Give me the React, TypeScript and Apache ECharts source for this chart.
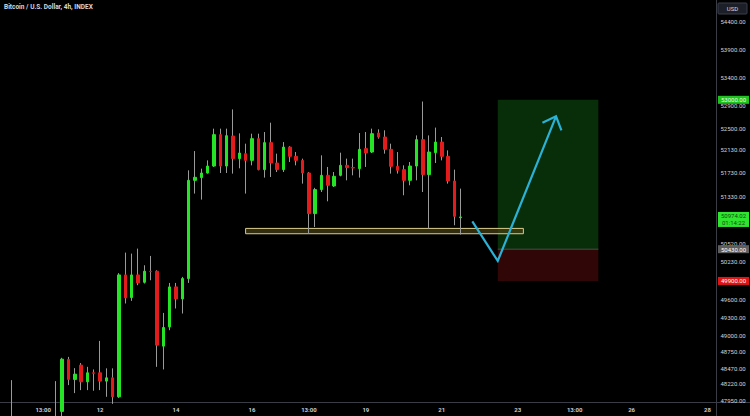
import { useEffect, useRef } from 'react';
import * as echarts from 'echarts';

const chartTitle = 'Bitcoin / U.S. Dollar, 4h, INDEX';
const quoteCurrency = 'USD';

// 4h bar slots, starting 2024-02-09 12:00 UTC
const firstSlotTime = Date.UTC(2024, 1, 9, 12);
const slotCount = 113;

// [open, close, low, high]
const candles: number[][] = [
  [47700, 47620, 47500, 47800],
  [47750, 47680, 47550, 48280],
  [47680, 47600, 47450, 47850],
  [47600, 47520, 47400, 47800],
  [47520, 47650, 47380, 47820],
  [47650, 47580, 47450, 47880],
  [47580, 47700, 47500, 47900],
  [47700, 47640, 47520, 47900],
  [47640, 47780, 47560, 48264],
  [47780, 48618, 47700, 48640],
  [48613, 48291, 48200, 48655],
  [48291, 48376, 48072, 48473],
  [48522, 48253, 48120, 48555],
  [48253, 48398, 48120, 48494],
  [48398, 48390, 48110, 48452],
  [48398, 48264, 48120, 48914],
  [48264, 48317, 48013, 48470],
  [48317, 48013, 47900, 48470],
  [48013, 50000, 47995, 50030],
  [50000, 49619, 49527, 50373],
  [49625, 50000, 49570, 50356],
  [50000, 49867, 49829, 50440],
  [49878, 50062, 49857, 50161],
  [50060, 50055, 49912, 50317],
  [50062, 48845, 48494, 50078],
  [48829, 49133, 48452, 49372],
  [49143, 49801, 49089, 49867],
  [49801, 49602, 49445, 49867],
  [49602, 49940, 49362, 49967],
  [49940, 51599, 49867, 51771],
  [51599, 51651, 51372, 52104],
  [51646, 51725, 51269, 51800],
  [51725, 51845, 51714, 51943],
  [51845, 52389, 51829, 52494],
  [52389, 51845, 51725, 52494],
  [51845, 52371, 51725, 52494],
  [52365, 51973, 51714, 52831],
  [51973, 52070, 51806, 52412],
  [52059, 51943, 51372, 52232],
  [51943, 52319, 51857, 52406],
  [52319, 51783, 51771, 52406],
  [51783, 52250, 51646, 52435],
  [52250, 51897, 51656, 52598],
  [51897, 51783, 51742, 52059],
  [51783, 52173, 51742, 52260],
  [52173, 52013, 51914, 52190],
  [52013, 51943, 51857, 52087],
  [51943, 51725, 51542, 51973],
  [51725, 51031, 50693, 51742],
  [51031, 51440, 50804, 51470],
  [51440, 51685, 51399, 52030],
  [51685, 51514, 51240, 51829],
  [51502, 51668, 51485, 51742],
  [51685, 51857, 51668, 52076],
  [51857, 51818, 51599, 51973],
  [51818, 51811, 51685, 51973],
  [51800, 52134, 51646, 52418],
  [52146, 52070, 51829, 52435],
  [52087, 52406, 52070, 52494],
  [52418, 52348, 52319, 52482],
  [52348, 52134, 52059, 52465],
  [52134, 51840, 51714, 52232],
  [51840, 51771, 51714, 52087],
  [51783, 51599, 51343, 51857],
  [51599, 51845, 51514, 51914],
  [51845, 52302, 51599, 52376],
  [52302, 51697, 51399, 52970],
  [51697, 52087, 50777, 52376],
  [52076, 52260, 51897, 52512],
  [52260, 52013, 51943, 52348],
  [52013, 51587, 51542, 52116],
  [51587, 50985, 50833, 51783],
  [50962, 50974.02, 50676, 51457],
];

// time axis labels: [slot time, label]
const timeTicks: [string, string][] = [
  ['2024-02-10 12:00', '13:00'],
  ['2024-02-12 00:00', '12'],
  ['2024-02-14 00:00', '14'],
  ['2024-02-16 00:00', '16'],
  ['2024-02-17 12:00', '13:00'],
  ['2024-02-19 00:00', '19'],
  ['2024-02-21 00:00', '21'],
  ['2024-02-23 00:00', '23'],
  ['2024-02-24 12:00', '13:00'],
  ['2024-02-26 00:00', '26'],
  ['2024-02-28 00:00', '28'],
];

// price scale labels
const priceTicks = [
  54400, 53900, 53400, 52900, 52500, 52130, 51730, 51330, 50520, 50230,
  49600, 49300, 49000, 48750, 48470, 48220, 47950,
];
const priceMin = 47930;
const priceMax = 54790;

// long position tool
const targetPrice = 53000;
const entryPrice = 50430;
const stopPrice = 49900;
const positionSlots = [77.85, 93.75];

// last price
const lastPrice = 50974.02;
const barCountdown = '01:14:22';

// support band: [start slot, end slot, low, high]
const supportBand = [38.0, 81.9, 50690, 50780];

// projected path: [slot, price]
const projectionPath: number[][] = [
  [73.83, 50900],
  [77.85, 50233],
  [87.06, 52709],
];

const BULL = '#25e325';
const BEAR = '#e31b1b';
const WICK = '#9a9a9a';
const FONT = 'Roboto';

const pad = (n: number) => String(n).padStart(2, '0');
const slotLabels = Array.from({ length: slotCount }, (_, i) => {
  const d = new Date(firstSlotTime + i * 4 * 3600 * 1000);
  return `${d.getUTCFullYear()}-${pad(d.getUTCMonth() + 1)}-${pad(d.getUTCDate())} ${pad(
    d.getUTCHours()
  )}:${pad(d.getUTCMinutes())}`;
});
const tickMap = new Map(timeTicks);

const xAt = (api: any, slot: number, price: number) => {
  const i = Math.floor(slot);
  const a = api.coord([i, price]);
  const b = api.coord([i + 1, price]);
  return a[0] + (b[0] - a[0]) * (slot - i);
};
const yAt = (api: any, price: number) => api.coord([0, price])[1];

export default function App() {
  const ref = useRef<HTMLDivElement>(null);

  useEffect(() => {
    if (!ref.current) return;
    const chart = echarts.init(ref.current, undefined, { renderer: 'svg' });

    const bodies = candles.map(([o, c]) => [o, c, Math.min(o, c), Math.max(o, c)]);

    const tagStyles: Record<string, { bg: string; fg: string }> = {
      target: { bg: '#1fc21f', fg: '#e6ffe6' },
      last: { bg: '#2fe52f', fg: '#0d4f0d' },
      entry: { bg: '#5e5e5e', fg: '#ffffff' },
      stop: { bg: '#e01414', fg: '#ffffff' },
    };
    const tags: [number, string][] = [
      [targetPrice, 'target'],
      [entryPrice, 'entry'],
      [stopPrice, 'stop'],
      [lastPrice, 'last'],
    ];

    const option: any = {
      animation: false,
      backgroundColor: '#000000',
      title: {
        text: chartTitle,
        left: 4,
        top: 3,
        padding: 0,
        textStyle: { color: '#d6d8de', fontSize: 6.5, fontWeight: 'bold', fontFamily: FONT },
      },
      grid: { left: 2, right: 33, top: 0, bottom: 14 },
      xAxis: {
        type: 'category',
        data: slotLabels,
        boundaryGap: true,
        axisLine: { show: false },
        axisTick: { show: false },
        splitLine: { show: false },
        axisLabel: {
          interval: (_i: number, v: string) => tickMap.has(v),
          formatter: (v: string) => tickMap.get(v) ?? '',
          color: '#c9cbd0',
          fontSize: 6,
          fontWeight: 'bold',
          fontFamily: FONT,
          margin: 4,
        },
      },
      yAxis: {
        type: 'log',
        position: 'right',
        min: priceMin,
        max: priceMax,
        scale: true,
        axisLine: { show: false },
        axisTick: { show: false },
        axisLabel: { show: false },
        splitLine: { show: false },
      },
      graphic: [
        { type: 'line', silent: true, shape: { x1: 716.5, y1: 0, x2: 716.5, y2: 416 }, style: { stroke: '#3a3d45', lineWidth: 1 } },
        { type: 'line', silent: true, shape: { x1: 0, y1: 402.5, x2: 750, y2: 402.5 }, style: { stroke: '#3a3d45', lineWidth: 1 } },
        {
          type: 'group',
          x: 718,
          y: 3,
          children: [
            { type: 'rect', shape: { x: 0, y: 0, width: 29, height: 11, r: 1 }, style: { fill: '#1c1f28', stroke: '#3a3e4a', lineWidth: 1 } },
            {
              type: 'text',
              x: 14.5,
              y: 5.5,
              style: { text: quoteCurrency, fill: '#d6d8de', fontSize: 6, fontFamily: FONT, align: 'center', verticalAlign: 'middle' },
            },
          ],
        },
      ],
      series: [
        {
          name: 'overlay',
          type: 'custom',
          silent: true,
          z: 1,
          data: [[0, entryPrice]],
          renderItem: (_params: any, api: any) => {
            const x0 = xAt(api, positionSlots[0], entryPrice);
            const x1 = xAt(api, positionSlots[1], entryPrice);
            const yT = yAt(api, targetPrice);
            const yE = yAt(api, entryPrice);
            const yS = yAt(api, stopPrice);

            const [bs, be, bl, bh] = supportBand;
            const sx0 = xAt(api, bs, bl);
            const sx1 = xAt(api, be, bl);
            const sy0 = yAt(api, bh);
            const sy1 = yAt(api, bl);

            const pts = projectionPath.map(([s, p]) => [xAt(api, s, p), yAt(api, p)]);
            const tip = pts[pts.length - 1];
            const prev = pts[pts.length - 2];
            const dx = prev[0] - tip[0];
            const dy = prev[1] - tip[1];
            const len = Math.hypot(dx, dy);
            const ux = dx / len;
            const uy = dy / len;
            const wing = (ang: number) => {
              const c = Math.cos(ang);
              const s = Math.sin(ang);
              return [tip[0] + 15 * (ux * c - uy * s), tip[1] + 15 * (ux * s + uy * c)];
            };
            const w1 = wing((43 * Math.PI) / 180);
            const w2 = wing((-43 * Math.PI) / 180);

            return {
              type: 'group',
              children: [
                { type: 'rect', shape: { x: x0, y: yT, width: x1 - x0, height: yE - yT }, style: { fill: '#072d09' } },
                { type: 'rect', shape: { x: x0, y: yE, width: x1 - x0, height: yS - yE }, style: { fill: '#300606' } },
                { type: 'line', shape: { x1: x0, y1: yE, x2: x1, y2: yE }, style: { stroke: '#4d4d4d', lineWidth: 1 } },
                {
                  type: 'rect',
                  shape: { x: sx0, y: sy0, width: sx1 - sx0, height: sy1 - sy0 },
                  style: { fill: 'rgba(70, 64, 20, 0.7)', stroke: '#d9cc8e', lineWidth: 1 },
                },
                { type: 'polyline', shape: { points: pts }, style: { stroke: '#2bb1d6', lineWidth: 2.2, fill: null, lineJoin: 'miter' } },
                { type: 'polyline', shape: { points: [w1, tip, w2] }, style: { stroke: '#2bb1d6', lineWidth: 2.2, fill: null } },
              ],
            };
          },
        },
        {
          name: 'wicks',
          type: 'candlestick',
          silent: true,
          z: 2,
          barWidth: 0.01,
          data: candles,
          itemStyle: { color: WICK, color0: WICK, borderColor: WICK, borderColor0: WICK, borderWidth: 1 },
        },
        {
          name: 'bodies',
          type: 'candlestick',
          silent: true,
          z: 3,
          barWidth: 3,
          data: bodies,
          itemStyle: { color: BULL, color0: BEAR, borderColor: BULL, borderColor0: BEAR, borderWidth: 1 },
        },
        {
          name: 'priceScale',
          type: 'custom',
          silent: true,
          z: 4,
          clip: false,
          data: priceTicks.map((v) => [0, v]),
          renderItem: (params: any, api: any) => {
            const v = api.value(1);
            const right = params.coordSys.x + params.coordSys.width;
            return {
              type: 'text',
              x: right + 3.5,
              y: yAt(api, v),
              style: {
                text: v.toFixed(2),
                fill: '#d2d4d9',
                fontSize: 6,
                fontFamily: FONT,
                align: 'left',
                verticalAlign: 'middle',
              },
            };
          },
        },
        {
          name: 'priceTags',
          type: 'custom',
          silent: true,
          z: 5,
          clip: false,
          data: tags.map(([v]) => [0, v]),
          renderItem: (params: any, api: any) => {
            const [v, kind] = tags[params.dataIndex];
            const st = tagStyles[kind];
            const right = params.coordSys.x + params.coordSys.width;
            const y = yAt(api, v);
            const isLast = kind === 'last';
            const h = isLast ? 15 : 8;
            const top = isLast ? y - 5 : y - 4;
            return {
              type: 'group',
              children: [
                { type: 'rect', shape: { x: right + 1, y: top, width: 31, height: h }, style: { fill: st.bg } },
                {
                  type: 'text',
                  x: right + 16.5,
                  y: top + h / 2,
                  style: {
                    text: isLast ? `${v.toFixed(2)}\n${barCountdown}` : v.toFixed(2),
                    fill: st.fg,
                    fontSize: 6,
                    lineHeight: 7,
                    fontFamily: FONT,
                    align: 'center',
                    verticalAlign: 'middle',
                  },
                },
              ],
            };
          },
        },
      ],
    };

    chart.setOption(option);
    return () => chart.dispose();
  }, []);

  return (
    <div
      ref={ref}
      style={{ position: 'fixed', left: 0, top: 0, width: 750, height: 416, background: '#000' }}
    />
  );
}
